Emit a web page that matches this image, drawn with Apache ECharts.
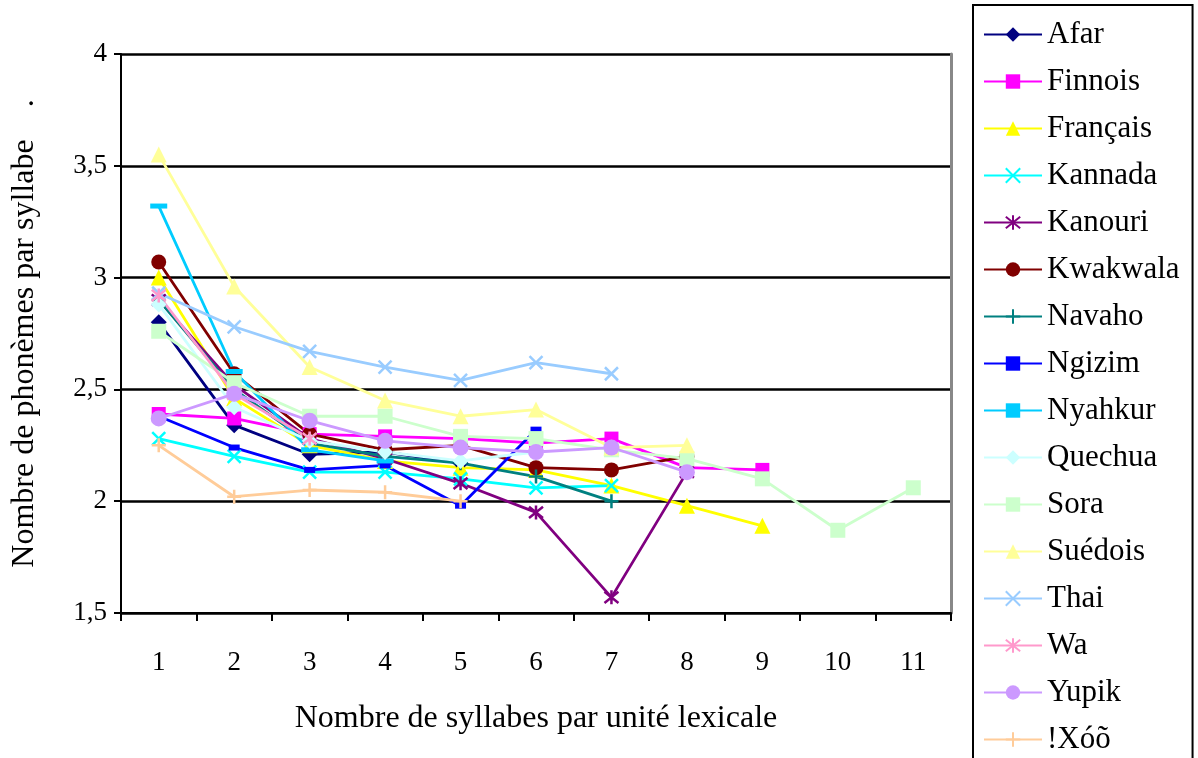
<!DOCTYPE html>
<html><head><meta charset="utf-8">
<script src="https://cdn.jsdelivr.net/npm/echarts@6/dist/echarts.min.js"></script>
<style>html,body{margin:0;padding:0;background:#fff}#c{width:1198px;height:758px}</style>
</head><body><div id="c"></div>
<script>
const categories = ['1','2','3','4','5','6','7','8','9','10','11'];
const seriesNames = ['Afar','Finnois','Français','Kannada','Kanouri','Kwakwala','Navaho','Ngizim','Nyahkur','Quechua','Sora','Suédois','Thai','Wa','Yupik','!Xóõ'];
const afar     = [2.80, 2.34, 2.21, 2.22, 2.17];
const finnois  = [2.39, 2.37, 2.30, 2.29, 2.28, 2.26, 2.28, 2.15, 2.14];
const francais = [3.00, 2.46, 2.25, 2.18, 2.15, 2.14, 2.07, 1.98, 1.89];
const kannada  = [2.28, 2.20, 2.13, 2.13, 2.10, 2.06, 2.07];
const kanouri  = [2.90, 2.52, 2.28, 2.19, 2.08, 1.95, 1.57, 2.13];
const kwakwala = [3.07, 2.57, 2.30, 2.23, 2.25, 2.15, 2.14, 2.20];
const navaho   = [2.90, 2.50, 2.26, 2.20, 2.17, 2.11, 2.00];
const ngizim   = [2.38, 2.24, 2.14, 2.16, 1.98, 2.32];
const nyahkur  = [3.32, 2.58, 2.23, 2.18];
const quechua  = [2.88, 2.42, 2.27, 2.22, 2.18, 2.22];
const sora     = [2.76, 2.53, 2.38, 2.38, 2.29, 2.28, 2.23, 2.19, 2.10, 1.87, 2.06];
const suedois  = [3.55, 2.96, 2.60, 2.45, 2.38, 2.41, 2.24, 2.25];
const thai     = [2.93, 2.78, 2.67, 2.60, 2.54, 2.62, 2.57];
const wa       = [2.92, 2.48, 2.28];
const yupik    = [2.37, 2.48, 2.36, 2.27, 2.24, 2.22, 2.24, 2.13];
const xoo      = [2.25, 2.02, 2.05, 2.04, 2.00];
const seriesValues = [afar, finnois, francais, kannada, kanouri, kwakwala, navaho, ngizim, nyahkur, quechua, sora, suedois, thai, wa, yupik, xoo];
const yTicks = [1.5, 2, 2.5, 3, 3.5, 4];

const colors = ['#000080','#FF00FF','#FFFF00','#00FFFF','#800080','#800000','#008080','#0000FF','#00CCFF','#CCFFFF','#CCFFCC','#FFFF99','#99CCFF','#FF99CC','#CC99FF','#FFCC99'];
const CROSS = 'path://M0,0L10,10M10,0L0,10';
const STAR = 'path://M1,1L9,9M9,1L1,9M5,0L5,10';
const PLUS = 'path://M5,0L5,10M0,5L10,5';
const marks = [
  {s:'diamond', z:16, stroke:false},
  {s:'rect', z:14, stroke:false},
  {s:'triangle', z:16, stroke:false},
  {s:CROSS, z:13, stroke:true},
  {s:STAR, z:14, stroke:true},
  {s:'circle', z:15, stroke:false},
  {s:PLUS, z:14, stroke:true},
  {s:'rect', z:[11,6], stroke:false},
  {s:'rect', z:[17,5], stroke:false},
  {s:'diamond', z:16, stroke:false},
  {s:'rect', z:15, stroke:false},
  {s:'triangle', z:16, stroke:false},
  {s:CROSS, z:13, stroke:true},
  {s:STAR, z:14, stroke:true},
  {s:'circle', z:16, stroke:false},
  {s:PLUS, z:14, stroke:true}
];
const FONT = 'Liberation Serif';
const series = seriesNames.map((n,i)=>({
  name:n, type:'line', data:seriesValues[i],
  symbol:marks[i].s, symbolSize:marks[i].z, showAllSymbol:true,
  lineStyle:{color:colors[i], width:2.8},
  itemStyle:{color:colors[i], borderColor:colors[i], borderWidth:marks[i].stroke?2.5:0},
  emphasis:{disabled:true}
}));
series.push({type:'line', data:[], yAxisIndex:1});
const chart = echarts.init(document.getElementById('c'), null, {renderer:'canvas'});
chart.setOption({
  animation:false,
  backgroundColor:'#fff',
  grid:{left:121, right:247, top:54, bottom:145},
  xAxis:{type:'category', data:categories, boundaryGap:true,
    name:'Nombre de syllabes par unité lexicale', nameLocation:'middle', nameGap:90,
    nameTextStyle:{fontFamily:FONT, fontSize:32, color:'#000'},
    axisLine:{lineStyle:{color:'#000', width:2}},
    axisTick:{show:true, length:8, lineStyle:{color:'#000', width:2}},
    axisLabel:{fontFamily:FONT, fontSize:27, color:'#000', margin:36},
    splitLine:{show:false}},
  yAxis:[{type:'value', min:1.5, max:4, interval:0.5,
    name:'Nombre de phonèmes par syllabe    .', nameLocation:'middle', nameGap:80,
    nameTextStyle:{fontFamily:FONT, fontSize:32, color:'#000'},
    axisLine:{show:true, lineStyle:{color:'#000', width:2}},
    axisTick:{show:true, length:7, lineStyle:{color:'#000', width:2}},
    axisLabel:{fontFamily:FONT, fontSize:27, color:'#000', margin:14,
      formatter:v=>yTicks.includes(v)?String(v).replace('.',','):''},
    splitLine:{show:true, lineStyle:{color:'#000', width:2.5}}},
   {type:'value', min:1.5, max:4, interval:0.5, position:'right',
    axisLine:{show:true, lineStyle:{color:'#888', width:3}},
    axisTick:{show:false}, axisLabel:{show:false}, splitLine:{show:false}}],
  legend:{orient:'vertical', left:973, top:5, height:900, data:seriesNames,
    itemWidth:58, itemHeight:18, itemGap:16,
    padding:[14,13,14,10],
    borderColor:'#000', borderWidth:2,
    textStyle:{fontFamily:FONT, fontSize:31, color:'#000'},
    selectedMode:false},
  series:series
});
</script></body></html>
